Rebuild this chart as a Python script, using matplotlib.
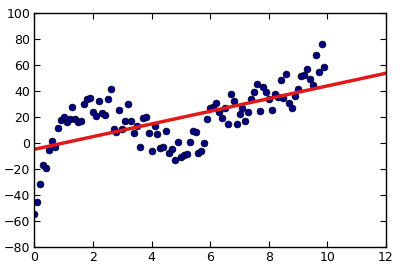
import numpy as np
import matplotlib
matplotlib.use("Agg")
import matplotlib.pyplot as plt

# points
x = [0.0, 0.1, 0.2, 0.3, 0.4, 0.5, 0.6, 0.7, 0.8, 0.9,
     1.0, 1.1, 1.2, 1.3, 1.4, 1.5, 1.6, 1.7, 1.8, 1.9,
     2.0, 2.1, 2.2, 2.3, 2.4, 2.5, 2.6, 2.7, 2.8, 2.9,
     3.0, 3.1, 3.2, 3.3, 3.4, 3.5, 3.6, 3.7, 3.8, 3.9,
     4.0, 4.1, 4.2, 4.3, 4.4, 4.5, 4.6, 4.7, 4.8, 4.9,
     5.0, 5.1, 5.2, 5.3, 5.4, 5.5, 5.6, 5.7, 5.8, 5.9,
     6.0, 6.1, 6.2, 6.3, 6.4, 6.5, 6.6, 6.7, 6.8, 6.9,
     7.0, 7.1, 7.2, 7.3, 7.4, 7.5, 7.6, 7.7, 7.8, 7.9,
     8.0, 8.1, 8.2, 8.3, 8.4, 8.5, 8.6, 8.7, 8.8, 8.9,
     9.0, 9.1, 9.2, 9.3, 9.4, 9.5, 9.6, 9.7, 9.8, 9.9]
y = [-55, -45.5, -31.7, -17, -19.6, -5.7, 1.3, -3.4, 11.3, 17.7,
     20.3, 16.2, 18.5, 27.5, 18.5, 16.4, 16.7, 29.8, 33.9, 34.7,
     23.6, 21.1, 32.4, 23.4, 21.8, 33.9, 41.4, 10.5, 8.5, 25.7,
     10.5, 17.2, 29.8, 17, 8, 13, -3.1, 19, 19.8, 8,
     -6, 13.3, 7.2, -4.1, -3.4, 9.5, -8, -4.4, -13.1, 0.5,
     -11, -9.5, -8.3, 0.5, 9, 8.2, -7.7, -5.9, 0, 18.5,
     27.2, 27.5, 30.6, 23.6, 19, 27.2, 14.4, 37.8, 32.1, 14.4,
     22.3, 26.7, 16.7, 24.1, 33.7, 39.6, 45.2, 24.4, 42.9, 39,
     33.8, 25.2, 37.8, 35.2, 48.3, 34.7, 53.5, 30.6, 27.2, 36.2,
     41.4, 51.7, 52.2, 57.3, 49.3, 44.5, 67.9, 55, 76.1, 58.9]

x_fit = [0, 12]
xticks = [0, 2, 4, 6, 8, 10, 12]
yticks = [-80, -60, -40, -20, 0, 20, 40, 60, 80, 100]

x = np.array(x)
y = np.array(y)
slope, intercept = np.polyfit(x, y, 1)
print(slope, intercept)

fig = plt.figure(figsize=(4, 2.69), dpi=100)
ax = fig.add_axes([0.086, 0.083, 0.879, 0.867])
ax.plot(x, y, "o", color="navy", markersize=5, markeredgecolor="black", markeredgewidth=0.4)
xf = np.array(x_fit)
ax.plot(xf, slope * xf + intercept, color="#e01a1a", linewidth=2.5)
ax.set_xlim(0, 12)
ax.set_ylim(-80, 100)
ax.set_xticks(xticks)
ax.set_yticks(yticks)
ax.tick_params(direction="in", top=True, right=True, length=4, labelsize=9, pad=3)
for s in ax.spines.values():
    s.set_linewidth(1.0)
fig.savefig("out.png", dpi=100)
